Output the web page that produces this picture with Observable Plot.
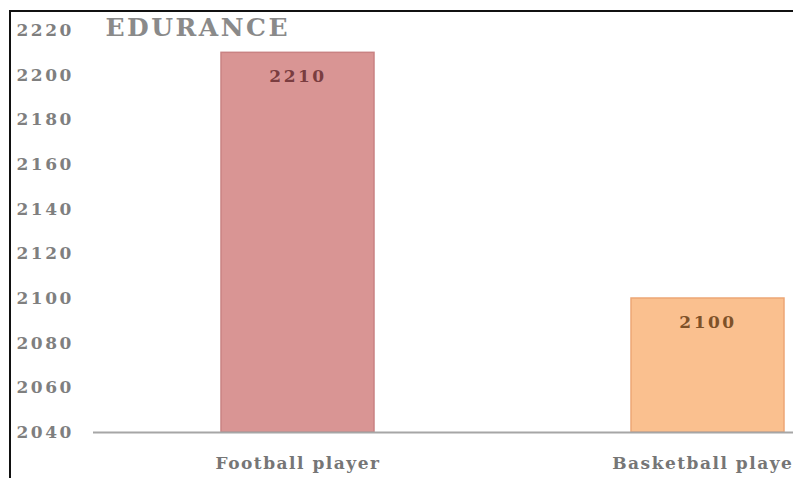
<!DOCTYPE html>
<html>
<head>
<meta charset="utf-8">
<script src="https://cdn.jsdelivr.net/npm/d3@7"></script>
<script src="https://cdn.jsdelivr.net/npm/@observablehq/plot@0.6"></script>
<style>
  html, body { margin: 0; padding: 0; background: #fff; overflow: hidden; width: 793px; height: 478px; }
  #wrap { position: relative; width: 793px; height: 478px; }
  #frame { position: absolute; left: 9px; top: 10px; width: 1000px; height: 1000px;
           border-left: 2px solid #111; border-top: 2px solid #111; pointer-events: none; }
  svg { position: absolute; left: 0; top: 0; }
</style>
</head>
<body>
<div id="wrap"><div id="frame"></div></div>
<script>
const title = "EDURANCE";
const categories = ["Football player", "Basketball player"];
const values = [2210, 2100];
const fills = ["#d99594", "#fac08f"];
const strokes = ["#c98283", "#eda676"];
const labelColors = ["#7a3d40", "#7e5128"];
const yTicks = [2040, 2060, 2080, 2100, 2120, 2140, 2160, 2180, 2200, 2220];

const data = categories.map((c, i) => ({cat: c, value: values[i], fill: fills[i], stroke: strokes[i], lc: labelColors[i]}));
const base = yTicks[0];
const serif = "DejaVu Serif";

const chart = Plot.plot({
  width: 793,
  height: 478,
  marginLeft: 93,
  marginRight: 0,
  marginTop: 0,
  marginBottom: 46,
  style: {background: "transparent", fontFamily: serif},
  x: {domain: categories, range: [92, 912], paddingInner: 0.627, paddingOuter: 0.3135, label: null},
  y: {domain: [yTicks[0], yTicks[yTicks.length - 1]], range: [432, 30], label: null},
  marks: [
    Plot.barY(data, {x: "cat", y1: base, y2: "value", fill: "fill", stroke: "stroke", strokeWidth: 1.5}),
    Plot.text(data, {x: "cat", y: "value", text: d => String(d.value), dy: 24, fill: "lc",
      fontSize: 17, fontWeight: "bold", fontFamily: serif}),
    Plot.ruleY([base], {stroke: "#a6a6a6", strokeWidth: 2}),
    Plot.axisY({ticks: yTicks, tickSize: 0, tickPadding: 0, textAnchor: "start", dx: -77,
      fontSize: 17, fontWeight: "bold", fill: "#7f7f7f", tickFormat: d => String(d), label: null}),
    Plot.axisX({tickSize: 0, tickPadding: 24, fontSize: 17, fontWeight: "bold", fill: "#767676", label: null}),
    Plot.text([title], {frameAnchor: "top-left", dx: 12, dy: 18, lineAnchor: "top", textAnchor: "start",
      fontSize: 25, fontWeight: "bold", fill: "#8a8a8a", fontFamily: serif})
  ]
});
const setLS = (sel, v) => chart.querySelectorAll(sel).forEach(t => t.setAttribute("letter-spacing", v));
setLS("g[aria-label='y-axis tick label'] text", "2.5");
setLS("g[aria-label='x-axis tick label'] text", "1.5");
const texts = chart.querySelectorAll("g[aria-label='text']");
texts[0].querySelectorAll("text").forEach(t => t.setAttribute("letter-spacing", "2.5"));
texts[1].querySelectorAll("text").forEach(t => t.setAttribute("letter-spacing", "2.5"));
document.getElementById("wrap").insertBefore(chart, document.getElementById("frame"));
</script>
</body>
</html>
